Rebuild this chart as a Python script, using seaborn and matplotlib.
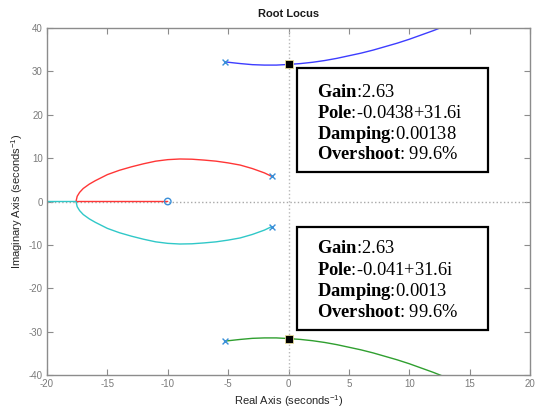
import matplotlib
matplotlib.use("Agg")
import matplotlib.pyplot as plt
from matplotlib.patches import Rectangle
import pandas as pd
import seaborn as sns

# ---------------- data ----------------
blue_x = [-5.3, -4.5, -4, -3, -2, -1, 0, 1, 2, 3, 4, 5, 6, 7, 8, 9, 10, 11, 12, 13]
blue_y = [32.2, 31.95, 31.8, 31.55, 31.45, 31.45, 31.6, 31.8, 32.1, 32.5, 33.0, 33.6,
          34.2, 34.9, 35.7, 36.5, 37.4, 38.4, 39.4, 40.5]
green_x = [-5.3, -4.5, -4, -3, -2, -1, 0, 1, 2, 3, 4, 5, 6, 7, 8, 9, 10, 11, 12, 13]
green_y = [-32.2, -31.95, -31.8, -31.55, -31.45, -31.45, -31.6, -31.8, -32.1, -32.5,
           -33.0, -33.6, -34.2, -34.9, -35.7, -36.5, -37.4, -38.4, -39.4, -40.5]
red_x = [-1.4, -2, -3, -4, -5, -6, -7, -8, -9, -10, -11, -12, -13, -14, -15, -16,
         -16.5, -17, -17.3, -17.5, -17.6, -10]
red_y = [5.8, 6.6, 7.6, 8.4, 8.9, 9.3, 9.55, 9.75, 9.8, 9.65, 9.3, 8.7, 8.0, 7.2,
         6.2, 4.8, 4.0, 3.0, 2.1, 1.2, 0.0, 0.0]
cyan_x = [-1.4, -2, -3, -4, -5, -6, -7, -8, -9, -10, -11, -12, -13, -14, -15, -16,
          -16.5, -17, -17.3, -17.5, -17.6, -20.5]
cyan_y = [-5.8, -6.6, -7.6, -8.4, -8.9, -9.3, -9.55, -9.75, -9.8, -9.65, -9.3, -8.7,
          -8.0, -7.2, -6.2, -4.8, -4.0, -3.0, -2.1, -1.2, 0.0, 0.0]

pole_re = [-5.3, -5.3, -1.4, -1.4]
pole_im = [32.2, -32.2, 5.8, -5.8]
zero_re = [-10.0]
zero_im = [0.0]

tip_re = [0.0, 0.0]
tip_im = [31.6, -31.6]
tip_gain = ["2.63", "2.63"]
tip_pole = ["-0.0438+31.6i", "-0.041+31.6i"]
tip_damping = ["0.00138", "0.0013"]
tip_overshoot = ["99.6%", "99.6%"]

x_ticks = [-20, -15, -10, -5, 0, 5, 10, 15, 20]
y_ticks = [-40, -30, -20, -10, 0, 10, 20, 30, 40]

title = "Root Locus"
x_label = "Real Axis (seconds$^{-1}$)"
y_label = "Imaginary Axis (seconds$^{-1}$)"

# ---------------- style ----------------
sns.set_theme(style="white")
plt.rcParams["font.family"] = ["Liberation Sans", "DejaVu Sans"]
plt.rcParams["mathtext.fontset"] = "custom"
plt.rcParams["mathtext.rm"] = "Liberation Sans"
plt.rcParams["mathtext.bf"] = "Liberation Serif:bold"

W, H = 543, 408
fig = plt.figure(figsize=(W / 100, H / 100), dpi=100)
ax = fig.add_axes([47 / W, 33 / H, 483 / W, 347 / H])

branches = pd.DataFrame({
    "re": blue_x + green_x + red_x + cyan_x,
    "im": blue_y + green_y + red_y + cyan_y,
    "branch": (["b"] * len(blue_x) + ["g"] * len(green_x)
               + ["r"] * len(red_x) + ["c"] * len(cyan_x)),
})
palette = {"b": "#3d3dff", "g": "#2f9f2f", "r": "#ff3636", "c": "#30c8c8"}

ax.axhline(0, color="#a8a8a8", ls=":", lw=1.0, zorder=1)
ax.axvline(0, color="#b8b8b8", ls=":", lw=1.0, zorder=1)

sns.lineplot(data=branches, x="re", y="im", hue="branch", palette=palette,
             sort=False, estimator=None, legend=False, lw=1.0, ax=ax, zorder=2)

poles = pd.DataFrame({"re": pole_re, "im": pole_im})
zeros = pd.DataFrame({"re": zero_re, "im": zero_im})
tips = pd.DataFrame({"re": tip_re, "im": tip_im})

sns.scatterplot(data=poles, x="re", y="im", marker="x", s=18, color="#3a8fd8",
                linewidth=1.0, ax=ax, zorder=3)
sns.scatterplot(data=zeros, x="re", y="im", marker="o", s=22, facecolor="none",
                edgecolor="#3a8fd8", linewidth=1.0, ax=ax, zorder=3)
sns.scatterplot(data=tips, x="re", y="im", marker="s", s=30, color="black",
                edgecolor="#e6dc9a", linewidth=0.6, ax=ax, zorder=4)

ax.set_xlim(-20, 20)
ax.set_ylim(-40, 40)
ax.set_xticks(x_ticks)
ax.set_yticks(y_ticks)
ax.set_xticklabels([str(t) for t in x_ticks])
ax.set_yticklabels([str(t) for t in y_ticks])
ax.tick_params(direction="in", length=4, width=0.8, color="#8c8c8c",
               labelcolor="#7a7a7a", labelsize=7, top=True, right=True,
               bottom=True, left=True, pad=3)
for s in ax.spines.values():
    s.set_color("#8c8c8c")
    s.set_linewidth(1.0)

ax.set_title(title, fontsize=8, fontweight="bold", color="#1a1a1a", pad=8)
ax.set_xlabel(x_label, fontsize=8, color="#262626", labelpad=3)
ax.set_ylabel(y_label, fontsize=8, color="#262626", labelpad=3)

# ---------------- data-tip boxes ----------------
box_tops = [68, 227]
box_bottoms = [172, 330]
baselines = [[97, 118, 139, 159], [253, 275, 296, 317]]
for i in range(2):
    x0, x1 = 297, 488
    rect = Rectangle((x0 / W, 1 - box_bottoms[i] / H), (x1 - x0) / W,
                     (box_bottoms[i] - box_tops[i]) / H, transform=fig.transFigure,
                     facecolor="white", edgecolor="black", lw=1.6, zorder=10)
    fig.patches.append(rect)
    lines = [r"$\mathbf{Gain}$:" + tip_gain[i],
             r"$\mathbf{Pole}$:" + tip_pole[i],
             r"$\mathbf{Damping}$:" + tip_damping[i],
             r"$\mathbf{Overshoot}$: " + tip_overshoot[i]]
    for j, t in enumerate(lines):
        fig.text(317 / W, 1 - baselines[i][j] / H, t, fontsize=13.3,
                 family="Liberation Serif", color="black", va="baseline",
                 ha="left", zorder=11)

fig.savefig("out.png", dpi=100)
